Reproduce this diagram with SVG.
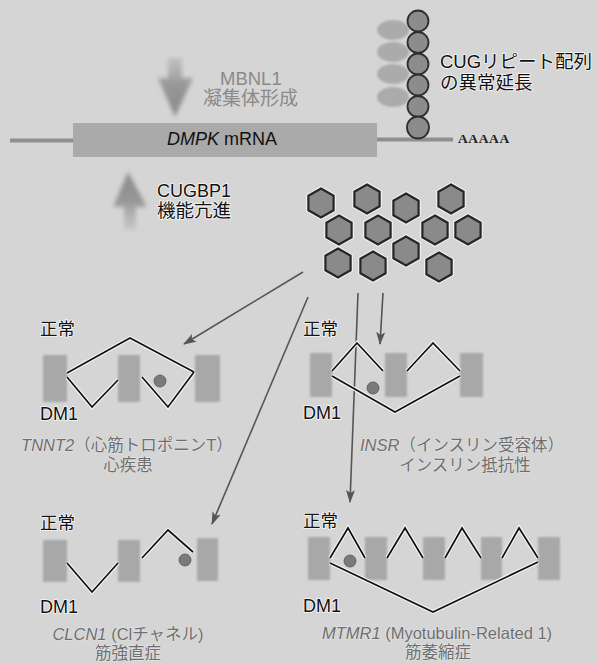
<svg xmlns="http://www.w3.org/2000/svg" width="598" height="663" viewBox="0 0 598 663">
  <defs>
    <style>
      .lab { font-family: "Liberation Sans", "Noto Sans CJK JP", sans-serif; fill: #111; stroke: #fff; stroke-width: 1.6; stroke-opacity: 0.85; paint-order: stroke; }
      .soft { font-family: "Liberation Sans", "Noto Sans CJK JP", sans-serif; fill: #8a8a8a; }
      .gene { font-family: "Liberation Sans", "Noto Sans CJK JP", sans-serif; fill: #6e6e6e; stroke: #e6e6e6; stroke-width: 1; paint-order: stroke; font-size: 16.5px; text-anchor: middle; }
      .exon { fill: #a8a8a8; filter: url(#softEdge); }
      .halo { fill: none; stroke: #f4f4f4; stroke-width: 4; stroke-linejoin: miter; }
      .splice { fill: none; stroke: #111; stroke-width: 1.7; stroke-linejoin: miter; }
      .dot { fill: #7a7a7a; stroke: #555; stroke-width: 0.8; }
      .hex { fill: #8a8a8a; stroke: #262626; stroke-width: 2.2; }
      .hexhalo { fill: none; stroke: #f2f2f2; stroke-width: 4.5; }
      .bead { fill: #8c8c8c; stroke: #2e2e2e; stroke-width: 1.8; }
      .ghost { fill: #ababab; filter: url(#softEdge); }
      .link { fill: none; stroke: #555; stroke-width: 1.6; marker-end: url(#head); }
      .rna { fill: none; stroke: #8f8f8f; stroke-width: 4; }
    </style>
    <filter id="softEdge" x="-20%" y="-20%" width="140%" height="140%">
      <feGaussianBlur stdDeviation="1.3"/>
    </filter>
    <filter id="haze" x="-30%" y="-30%" width="160%" height="160%">
      <feGaussianBlur stdDeviation="2"/>
    </filter>
    <linearGradient id="downFade" x1="0" y1="0" x2="0" y2="1">
      <stop offset="0" stop-color="#a8a8a8" stop-opacity="0.45"/>
      <stop offset="0.45" stop-color="#979797"/>
      <stop offset="1" stop-color="#8a8a8a"/>
    </linearGradient>
    <linearGradient id="upFade" x1="0" y1="1" x2="0" y2="0">
      <stop offset="0" stop-color="#a8a8a8" stop-opacity="0.3"/>
      <stop offset="0.5" stop-color="#979797"/>
      <stop offset="1" stop-color="#8a8a8a"/>
    </linearGradient>
    <marker id="head" markerUnits="userSpaceOnUse" markerWidth="14" markerHeight="10" refX="12" refY="4.5" orient="auto">
      <path d="M0,0 L13,4.5 L0,9 L3,4.5 z" fill="#555"/>
    </marker>
    <polygon id="hx" points="0,-14.5 12.6,-7.25 12.6,7.25 0,14.5 -12.6,7.25 -12.6,-7.25"/>
  </defs>

  <!-- page -->
  <rect width="598" height="663" fill="#d5d5d5"/>

  <!-- DMPK transcript with expanded CUG repeat -->
  <g id="transcript">
    <line class="rna" x1="10" y1="140.5" x2="74" y2="140.5"/>
    <line class="rna" x1="376" y1="139.5" x2="453" y2="139.5"/>
    <rect x="73" y="123" width="304" height="34" fill="#aaaaaa"/>
    <text x="167" y="145" font-family="Liberation Sans, sans-serif" font-size="18" fill="#111"><tspan font-style="italic">DMPK</tspan> mRNA</text>
    <text x="458" y="143" font-family="Liberation Serif, serif" font-weight="bold" font-size="13.5" fill="#222" letter-spacing="0.6">AAAAA</text>
  </g>

  <g id="cug-repeat">
    <ellipse class="ghost" cx="393" cy="30" rx="16" ry="10"/>
    <ellipse class="ghost" cx="393" cy="52" rx="16" ry="10"/>
    <ellipse class="ghost" cx="393" cy="74" rx="16" ry="10"/>
    <ellipse class="ghost" cx="393" cy="97" rx="16" ry="10"/>
    <circle class="bead" cx="418" cy="21" r="10.5"/>
    <circle class="bead" cx="418" cy="42.5" r="10.5"/>
    <circle class="bead" cx="418" cy="64" r="10.5"/>
    <circle class="bead" cx="418" cy="85" r="10.5"/>
    <circle class="bead" cx="418" cy="106.5" r="10.5"/>
    <circle class="bead" cx="418" cy="127.5" r="11"/>
    <text class="lab" x="440" y="68" font-size="18.5">CUGリピート配列</text>
    <text class="lab" x="440" y="89" font-size="18.5">の異常延長</text>
  </g>

  <g id="mbnl1">
    <path d="M168,58 L182,58 L182,78 L193,78 L175,117 L158,78 L168,78 z" fill="url(#downFade)" filter="url(#haze)"/>
    <text class="soft" x="220" y="85" font-size="18.5">MBNL1</text>
    <text class="soft" x="203" y="105" font-size="19">凝集体形成</text>
  </g>

  <g id="cugbp1">
    <path d="M128,172 L147,207 L136,207 L136,230 L124,230 L124,207 L113,207 z" fill="url(#upFade)" filter="url(#haze)"/>
    <text class="lab" x="157" y="197" font-size="18">CUGBP1</text>
    <text class="lab" x="157" y="217" font-size="18.5">機能亢進</text>
  </g>

  <!-- sequestered MBNL1 foci -->
  <g id="foci">
    <g class="hexhalo">
      <use href="#hx" x="321" y="203"/><use href="#hx" x="367" y="199"/><use href="#hx" x="406" y="208"/><use href="#hx" x="451" y="199"/>
      <use href="#hx" x="339" y="230"/><use href="#hx" x="378" y="230"/><use href="#hx" x="435" y="230"/><use href="#hx" x="468" y="230"/>
      <use href="#hx" x="406" y="251"/><use href="#hx" x="338" y="263"/><use href="#hx" x="373" y="266"/><use href="#hx" x="439" y="267"/>
    </g>
    <g class="hex">
      <use href="#hx" x="321" y="203"/><use href="#hx" x="367" y="199"/><use href="#hx" x="406" y="208"/><use href="#hx" x="451" y="199"/>
      <use href="#hx" x="339" y="230"/><use href="#hx" x="378" y="230"/><use href="#hx" x="435" y="230"/><use href="#hx" x="468" y="230"/>
      <use href="#hx" x="406" y="251"/><use href="#hx" x="338" y="263"/><use href="#hx" x="373" y="266"/><use href="#hx" x="439" y="267"/>
    </g>
  </g>

  <!-- connectors from foci to affected transcripts -->
  <g id="connectors">
    <line class="link" x1="303" y1="272" x2="184" y2="344"/>
    <line class="link" x1="308" y1="297" x2="212" y2="524"/>
    <line class="link" x1="358" y1="293" x2="350" y2="502"/>
    <line class="link" x1="383" y1="293" x2="380" y2="344"/>
  </g>

  <!-- TNNT2 -->
  <g id="tnnt2">
    <rect class="exon" x="43" y="355" width="24" height="47"/>
    <rect class="exon" x="118" y="355" width="22" height="47"/>
    <rect class="exon" x="195" y="355" width="25" height="47"/>
    <polyline class="halo" points="67,373 130,338 194,372"/>
    <polyline class="halo" points="67,377 92,407 118,380"/>
    <polyline class="halo" points="142,377 168,407 194,372"/>
    <polyline class="splice" points="67,373 130,338 194,372"/>
    <polyline class="splice" points="67,377 92,407 118,380"/>
    <polyline class="splice" points="142,377 168,407 194,372"/>
    <circle class="dot" cx="160" cy="381" r="6"/>
    <text class="lab" x="40" y="335" font-size="17.5">正常</text>
    <text class="lab" x="40" y="420" font-size="18">DM1</text>
    <text class="gene" x="127" y="451"><tspan font-style="italic">TNNT2</tspan>（心筋トロポニンT）</text>
    <text class="gene" x="128" y="471">心疾患</text>
  </g>

  <!-- INSR -->
  <g id="insr">
    <rect class="exon" x="310" y="353" width="22" height="44"/>
    <rect class="exon" x="385" y="353" width="22" height="44"/>
    <rect class="exon" x="460" y="353" width="23" height="44"/>
    <polyline class="halo" points="332,371 357,343 383,371"/>
    <polyline class="halo" points="407,371 433,343 460,371"/>
    <polyline class="halo" points="332,376 395,412 460,376"/>
    <polyline class="splice" points="332,371 357,343 383,371"/>
    <polyline class="splice" points="407,371 433,343 460,371"/>
    <polyline class="splice" points="332,376 395,412 460,376"/>
    <circle class="dot" cx="373" cy="388" r="6"/>
    <text class="lab" x="303" y="335" font-size="17.5">正常</text>
    <text class="lab" x="303" y="419" font-size="18">DM1</text>
    <text class="gene" x="462" y="451"><tspan font-style="italic">INSR</tspan>（インスリン受容体）</text>
    <text class="gene" x="465" y="471">インスリン抵抗性</text>
  </g>

  <!-- CLCN1 -->
  <g id="clcn1">
    <rect class="exon" x="43" y="540" width="24" height="42"/>
    <rect class="exon" x="118" y="540" width="22" height="42"/>
    <rect class="exon" x="197" y="538" width="21" height="43"/>
    <polyline class="halo" points="142,558 168,530 193,552"/>
    <polyline class="halo" points="67,563 92,592 118,563"/>
    <polyline class="splice" points="142,558 168,530 193,552"/>
    <polyline class="splice" points="67,563 92,592 118,563"/>
    <circle class="dot" cx="185" cy="560" r="6"/>
    <text class="lab" x="40" y="529" font-size="17.5">正常</text>
    <text class="lab" x="40" y="613" font-size="18">DM1</text>
    <text class="gene" x="128" y="640"><tspan font-style="italic">CLCN1</tspan> (Clチャネル)</text>
    <text class="gene" x="128" y="659">筋強直症</text>
  </g>

  <!-- MTMR1 -->
  <g id="mtmr1">
    <rect class="exon" x="308" y="537" width="22" height="43"/>
    <rect class="exon" x="365" y="537" width="22" height="43"/>
    <rect class="exon" x="423" y="537" width="22" height="43"/>
    <rect class="exon" x="481" y="537" width="21" height="43"/>
    <rect class="exon" x="538" y="537" width="22" height="43"/>
    <g class="halo">
      <polyline points="330,558 348,528 365,558"/>
      <polyline points="387,558 405,528 423,558"/>
      <polyline points="445,558 462,528 481,558"/>
      <polyline points="502,558 519,528 538,558"/>
      <polyline points="330,563 433,612 538,562"/>
    </g>
    <g class="splice">
      <polyline points="330,558 348,528 365,558"/>
      <polyline points="387,558 405,528 423,558"/>
      <polyline points="445,558 462,528 481,558"/>
      <polyline points="502,558 519,528 538,558"/>
      <polyline points="330,563 433,612 538,562"/>
    </g>
    <circle class="dot" cx="350" cy="561" r="6"/>
    <text class="lab" x="303" y="527" font-size="17.5">正常</text>
    <text class="lab" x="303" y="612" font-size="18">DM1</text>
    <text class="gene" x="437" y="639"><tspan font-style="italic">MTMR1</tspan> (Myotubulin-Related 1)</text>
    <text class="gene" x="438" y="658">筋萎縮症</text>
  </g>
</svg>
